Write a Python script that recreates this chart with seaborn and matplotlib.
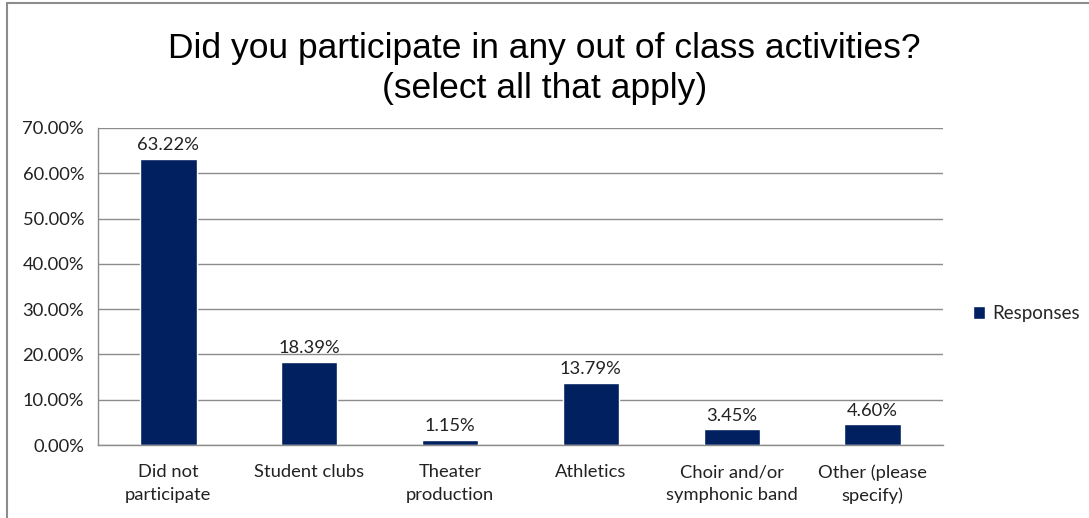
import matplotlib
matplotlib.use("Agg")
import matplotlib.pyplot as plt
from matplotlib.patches import Rectangle
import seaborn as sns
import pandas as pd

categories = ["Did not\nparticipate", "Student clubs", "Theater\nproduction",
              "Athletics", "Choir and/or\nsymphonic band", "Other (please\nspecify)"]
responses = [63.22, 18.39, 1.15, 13.79, 3.45, 4.60]
yticks = [0, 10, 20, 30, 40, 50, 60, 70]
series_name = "Responses"
bar_color = "#002060"

df = pd.DataFrame({"Activity": categories, "Percent": responses, "Series": series_name})

sns.set_style("white")
plt.rcParams["font.family"] = ["Lato", "DejaVu Sans"]

fig = plt.figure(figsize=(10.89, 5.18), dpi=100)
ax = fig.add_axes([98 / 1089, 1 - 445 / 518, (943 - 98) / 1089, (445 - 128) / 518])

sns.barplot(data=df, x="Activity", y="Percent", hue="Series", palette=[bar_color],
            width=0.4, ax=ax, legend=True, saturation=1)

ax.set_ylim(0, 70)
ax.set_xlim(-0.5, len(categories) - 0.5)
ax.set_yticks(yticks)
ax.set_yticklabels([f"{v:.2f}%" for v in yticks], fontsize=13.2, color="#222222")
ax.yaxis.grid(True, color="#8c8c8c", linewidth=1)
ax.set_axisbelow(True)
ax.set_xlabel("")
ax.set_ylabel("")
ax.set_xticks([i - 0.5 for i in range(len(categories) + 1)])
ax.set_xticklabels([])
ax.set_xticks(range(len(categories)), minor=True)
ax.set_xticklabels(categories, minor=True, fontsize=13.2, color="#222222",
                   linespacing=1.5)
ax.tick_params(axis="x", which="major", length=6, color="#8c8c8c", width=1, direction="out")
ax.tick_params(axis="x", which="minor", length=0, pad=14)
ax.tick_params(axis="y", length=5, color="#8c8c8c", width=1, direction="out", pad=5)
for side in ["top", "right"]:
    ax.spines[side].set_visible(False)
for side in ["left", "bottom"]:
    ax.spines[side].set_color("#8c8c8c")
    ax.spines[side].set_linewidth(1)

for container in ax.containers:
    ax.bar_label(container, labels=[f"{v:.2f}%" for v in responses],
                 padding=4, fontsize=13.2, color="#222222")

leg = ax.legend(loc="center left", bbox_to_anchor=(1.015, 0.415), frameon=False,
                fontsize=13.5, handlelength=0.65, handleheight=0.65, handletextpad=0.4)

fig.text(0.5, 0.868, "Did you participate in any out of class activities?\n(select all that apply)",
         ha="center", va="center", fontsize=25.5, family="Liberation Sans",
         color="#000000", linespacing=1.25)

fig.patches.append(Rectangle((7 / 1089, -0.1), 1.2, 1 - 3 / 518 + 0.1,
                             transform=fig.transFigure, fill=False,
                             edgecolor="#8c8c8c", linewidth=1.5))

fig.savefig("out.png", dpi=100)
